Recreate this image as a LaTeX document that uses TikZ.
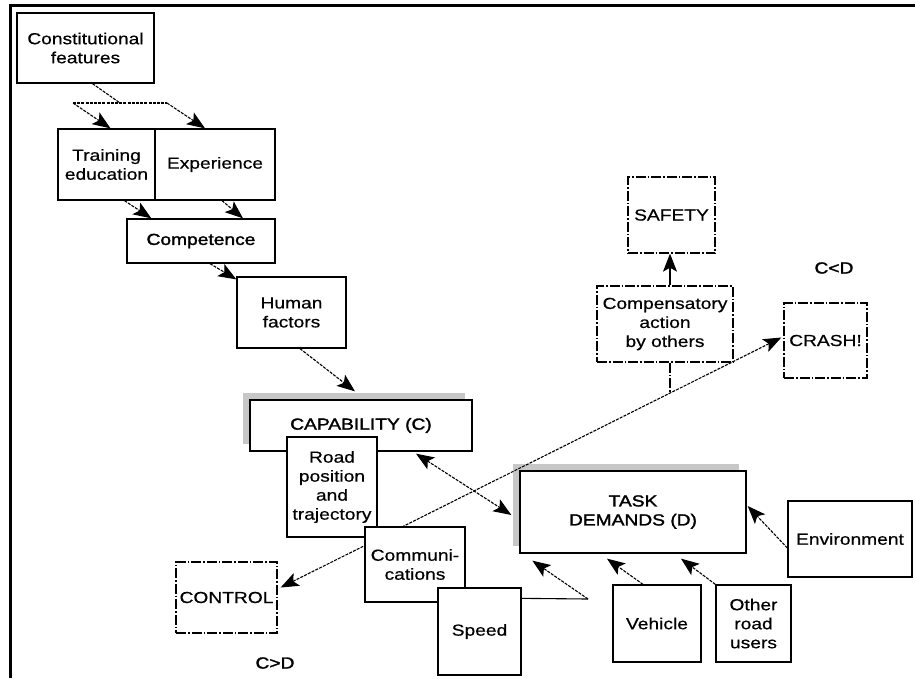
\documentclass[tikz,border=0pt]{standalone}
\usepackage{fontspec}
\setmainfont{Liberation Sans}[FakeStretch=1.2, FakeBold=0.5]
\newfontfamily\gros{Liberation Sans}[FakeStretch=1.2, FakeBold=1.8]
\usetikzlibrary{arrows.meta, shadows}

\begin{document}
\begin{tikzpicture}[x=1pt, y=-1pt, >={Stealth[length=18pt, width=14pt, inset=4pt]}]
        \tikzstyle{every node} = [font=\fontsize{16}{19}\selectfont]
        \tikzstyle{cutie}      = [draw, line width=1.3pt, fill=white, inner sep=0pt, align=center]
        \tikzstyle{rezultat}   = [cutie, dash pattern=on 10pt off 2pt on 1.5pt off 2pt]
        \tikzstyle{umbra}      = [drop shadow={shadow xshift=-7pt, shadow yshift=7pt, fill=black!22, opacity=1}]
        \tikzstyle{legatura}   = [line width=1.1pt, dash pattern=on 3pt off 1.2pt]
        \tikzstyle{sageata}    = [legatura, ->]

        \useasboundingbox (0,0) rectangle (915,678);
        \draw[line width=2.5pt] (10.5,678) -- (10.5,5.5) -- (915,5.5);

        \node[cutie, minimum width=137pt, minimum height=70pt] (constit) at (85.5,48) {Constitutional\\features};
        \node[cutie, minimum width=97pt, minimum height=71pt] (training) at (106.5,164.5) {Training\\education};
        \node[cutie, minimum width=120pt, minimum height=71pt] (exper) at (215,164.5) {Experience};
        \node[cutie, minimum width=148pt, minimum height=44pt] (compet) at (201,241) {\gros Competence};
        \node[cutie, minimum width=109pt, minimum height=71pt] (human) at (291.5,312.5) {Human\\factors};
        \node[cutie, umbra, minimum width=222pt, minimum height=51pt] (capab) at (361,425.5) {\gros CAPABILITY (C)};
        \node[cutie, minimum width=90pt, minimum height=100pt] (road) at (332,487) {Road\\position\\and\\trajectory};
        \node[cutie, umbra, minimum width=226pt, minimum height=82pt] (task) at (633,512) {\gros TASK\\\gros DEMANDS (D)};
        \node[cutie, minimum width=124pt, minimum height=76pt] (env) at (850,539) {Environment};
        \node[cutie, minimum width=88pt, minimum height=77pt] (vehicle) at (657,623.5) {Vehicle};
        \node[cutie, minimum width=75pt, minimum height=77pt] (other) at (753.5,623.5) {Other\\road\\users};
        \node[rezultat, minimum width=101pt, minimum height=71pt] (control) at (226.5,597.5) {CONTROL};
        \node[rezultat, minimum width=136pt, minimum height=76pt] (comp) at (665,324) {Compensatory\\action\\by others};
        \node[rezultat, minimum width=87pt, minimum height=76pt] (safety) at (671.5,215) {SAFETY};
        \node[rezultat, minimum width=83pt, minimum height=75pt] (crash) at (825.5,340.5) {CRASH!};
        \node (cmare) at (834,268) {\gros C<D};
        \node (cmic) at (275,663) {\gros C>D};

        % Ramificatia de sub trasaturi.
        \coordinate (ramA) at (73,103);
        \coordinate (ramB) at (167,103);
        \coordinate (ramC) at (120,103);
        \coordinate (jonct) at (670,393);
        \coordinate (colt) at (588,599);
        \draw[legatura] ([xshift=7pt]constit.south) -- (ramC);
        \draw[legatura] (ramA) -- (ramB);
        \draw[sageata] (ramA) -- ([xshift=4pt]training.north);
        \draw[sageata] (ramB) -- ([xshift=-10pt]exper.north);
        \draw[sageata] ([xshift=18pt]training.south) -- ([xshift=25pt]compet.north west);
        \draw[sageata] ([xshift=7pt]exper.south) -- ([xshift=42pt]compet.north);
        \draw[sageata] ([xshift=9pt]compet.south) -- ([yshift=-3pt]human.north west);
        \draw[sageata] ([xshift=8.5pt]human.south) -- ([xshift=-6pt, yshift=8pt]capab.north);
        \draw[legatura, <->] ([xshift=55pt, yshift=-2pt]capab.south) -- ([xshift=-8pt, yshift=-3pt]task.west);
        \draw[legatura, <->] ([xshift=3pt, yshift=10pt]control.east) -- ([xshift=-2pt, yshift=3pt]crash.west);
        \draw[line width=1.1pt, dash pattern=on 10pt off 2pt on 1.5pt off 2pt] ([xshift=5pt]comp.south) -- (jonct);
        \draw[->, line width=1.1pt] ([xshift=5pt]comp.north) -- ([xshift=-1.5pt]safety.south);

        % Cutiile care acopera linia lunga.
        \node[cutie, minimum width=100pt, minimum height=75pt] (comm) at (415,564.5) {Communi-\\cations};
        \node[cutie, minimum width=83pt, minimum height=87pt] (speed) at (479.5,631.5) {Speed};

        \draw[line width=1.1pt] ([yshift=-11pt]speed.north east) -- (colt);
        \draw[sageata] (colt) -- ([xshift=13pt, yshift=-7pt]task.south west);
        \draw[sageata] ([xshift=-14pt]vehicle.north) -- ([xshift=-26pt, yshift=-5pt]task.south);
        \draw[sageata] (other.north west) -- ([xshift=48pt, yshift=-5pt]task.south);
        \draw[sageata] ([yshift=-9pt]env.west) -- ([xshift=1pt, yshift=6pt]task.east);
    \end{tikzpicture}
\end{document}
